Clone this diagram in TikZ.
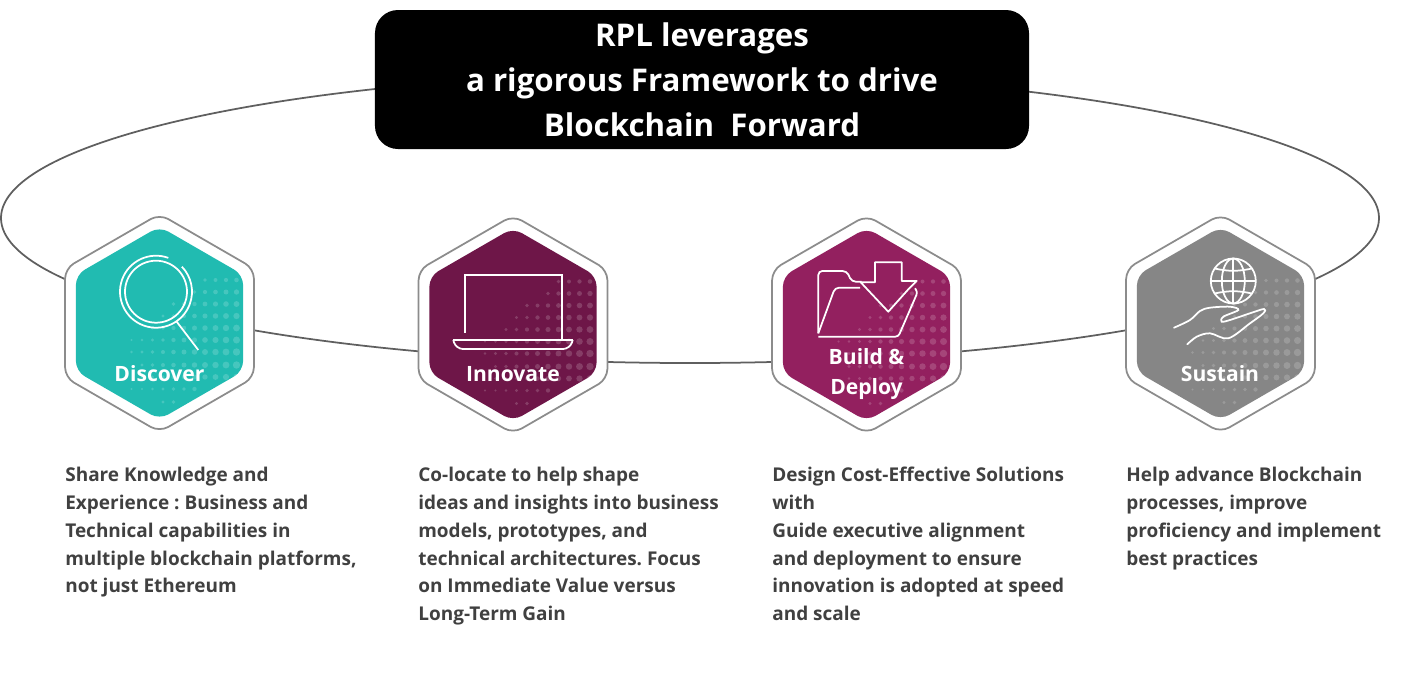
\documentclass[tikz,border=0pt]{standalone}
\usepackage{fontspec}
\setmainfont{Open Sans}
\usepackage{xcolor}
\usetikzlibrary{shapes.geometric, positioning}

\definecolor{tealhex}{HTML}{21BBB1}
\definecolor{wine}{HTML}{6E1648}
\definecolor{plum}{HTML}{93205F}
\definecolor{grayhex}{HTML}{868686}
\definecolor{ringline}{HTML}{5F5F5F}
\definecolor{hexline}{HTML}{8C8C8C}
\definecolor{bodytext}{HTML}{404040}

%% halftone dots, clipped by the hexagon that calls them
\newcommand{\hexdots}{%
  \begin{scope}[shift={(path picture bounding box.center)}]
    \foreach \dy/\first/\last/\rf in {-43/0/3/0.62, -31/0/4/0.72, -19/0/6/0.80, -7/0/7/0.85,
        5/0/8/0.92, 17/0/10/0.95, 29/0/10/1.0, 42/0/9/1.0, 54/0/9/0.9, 66/4/10/0.78, 79/6/7/0.8} {
      \foreach \i in {\first,...,\last} {
        \pgfmathsetmacro{\rr}{max(0.7,(3.7-0.24*\i)*\rf)}
        \fill[white, fill opacity=0.17] ({77-10.5*\i},\dy) circle (\rr);
      }
    }
  \end{scope}}

\begin{document}
\frenchspacing
\begin{tikzpicture}[
  x=0.2mm, y=-0.2mm,
  ring/.style={ellipse, draw=ringline, line width=0.35mm, minimum width=275.6mm,
               minimum height=58mm, inner sep=0pt},
  hexout/.style={regular polygon, regular polygon sides=6, shape border rotate=30, draw=hexline, fill=white,
                 line width=0.35mm, minimum size=43.6mm, inner sep=0pt, rounded corners=2mm},
  hexin/.style={regular polygon, regular polygon sides=6, shape border rotate=30, minimum size=38.6mm, inner sep=0pt,
                rounded corners=2mm, path picture={\hexdots}},
  hexlbl/.style={text=white, font=\fontsize{12}{17}\selectfont\bfseries, align=center, inner sep=0pt},
  desc/.style={anchor=north west, align=left, inner sep=0pt, text=bodytext,
               font=\fontsize{10.8}{15.8}\selectfont\bfseries},
  icon/.style={draw=white, line width=0.35mm},
  titlebox/.style={rectangle, rounded corners=4.6mm, fill=black, text=white, align=center,
                   minimum width=130.8mm, minimum height=27.8mm, inner sep=0pt,
                   font=\fontsize{17.8}{25.6}\selectfont\bfseries}
]
\useasboundingbox (0,0) rectangle (1404,683);
%% Ring behind everything
\node[ring] (loop) at (690,218) {};
%% Title
\node[titlebox] (title) at (702,79.5) {RPL leverages\\a rigorous Framework to drive\\Blockchain~~Forward};
%% Hexagons
\node[hexout] (hd) at (159.5,323) {};
\node[hexout] (hi) at (513,324.5) {};
\node[hexout] (hb) at (866.5,324.5) {};
\node[hexout] (hs) at (1220.5,323.5) {};
\node[hexin, fill=tealhex] (hdi) at (hd.center) {};
\node[hexin, fill=wine] (hii) at (hi.center) {};
\node[hexin, fill=plum] (hbi) at (hb.center) {};
\node[hexin, fill=grayhex] (hsi) at (hs.center) {};
%% Magnifier
\draw[icon] (156,291.7) circle (31);
\draw[icon] (156,291.7) ++(-70:36) arc (-70:-404:36);
\draw[icon] (176.7,321.7) -- (198.3,350);
%% Laptop
\draw[icon] (465,332.7) -- (465,275) -- (561.7,275) -- (561.7,340);
\draw[icon, rounded corners=1.4mm] (453.3,340) -- (456,349) -- (570,349) -- (572.7,340);
\draw[icon] (453.3,340) -- (572.7,340);
%% Folder
\draw[icon, rounded corners=0.8mm] (818.3,333.3) -- (818.3,271) -- (846.7,271) -- (851.7,281.7) -- (861.7,281.7);
\draw[icon, rounded corners=0.8mm] (818.3,333.3) -- (835,287.7) -- (860,287.7);
\draw[icon, line join=round] (875,282.3) -- (875,262.3) -- (901.7,262.3) -- (901.7,281) -- (916.7,281)
  -- (907.7,290) -- (888.3,311.7) -- (860.7,282.3) -- cycle;
\draw[icon, rounded corners=0.6mm] (915,288.3) -- (917.7,292) -- (898.3,336.7) -- (818.3,336.7);
%% Globe
\draw[icon] (1233.3,281) circle (22.5);
\draw[icon] (1233.3,281) ellipse (11.5 and 22.5);
\draw[icon] (1233.3,258.5) -- (1233.3,303.5);
\draw[icon] (1210.8,281) -- (1255.8,281);
\draw[icon] (1214.5,268.5) to[bend right=12] (1252,268.5);
\draw[icon] (1214.5,293.5) to[bend left=12] (1252,293.5);
%% Hand
\draw[icon, line cap=round] plot[smooth, tension=0.55] coordinates {(1174,327.7) (1190,320) (1200,311) (1210,307.7)
  (1230,306.7) (1238.3,310) (1223.3,316.7) (1221.7,321.7) (1230,320) (1250,313.3) (1264,309)
  (1263.3,313.3) (1250,323.3) (1228.3,338.3) (1210,333.3) (1196.7,336.7) (1187.3,344.3)};
%% Hexagon labels
\node[hexlbl] (ld) at (159.5,374) {Discover};
\node[hexlbl] (li) at (513,374) {Innovate};
\node[hexlbl] (lb) at (866.5,374) {Build \&\\Deploy};
\node[hexlbl] (ls) at (1220,374) {Sustain};
%% Descriptions
\node[desc] (dd) at (65,467) {Share Knowledge and\\Experience : Business and\\Technical capabilities in\\multiple blockchain platforms,\\not just Ethereum};
\node[desc] (di) at (418,467) {Co-locate to help shape\\ideas and insights into business\\models, prototypes, and\\technical architectures. Focus\\on Immediate Value versus\\Long-Term Gain};
\node[desc] (db) at (772,467) {Design Cost-Effective Solutions\\with\\Guide executive alignment\\and deployment to ensure\\innovation is adopted at speed\\and scale};
\node[desc] (ds) at (1126,467) {Help advance Blockchain\\processes, improve\\proficiency and implement\\best practices};
\end{tikzpicture}
\end{document}
